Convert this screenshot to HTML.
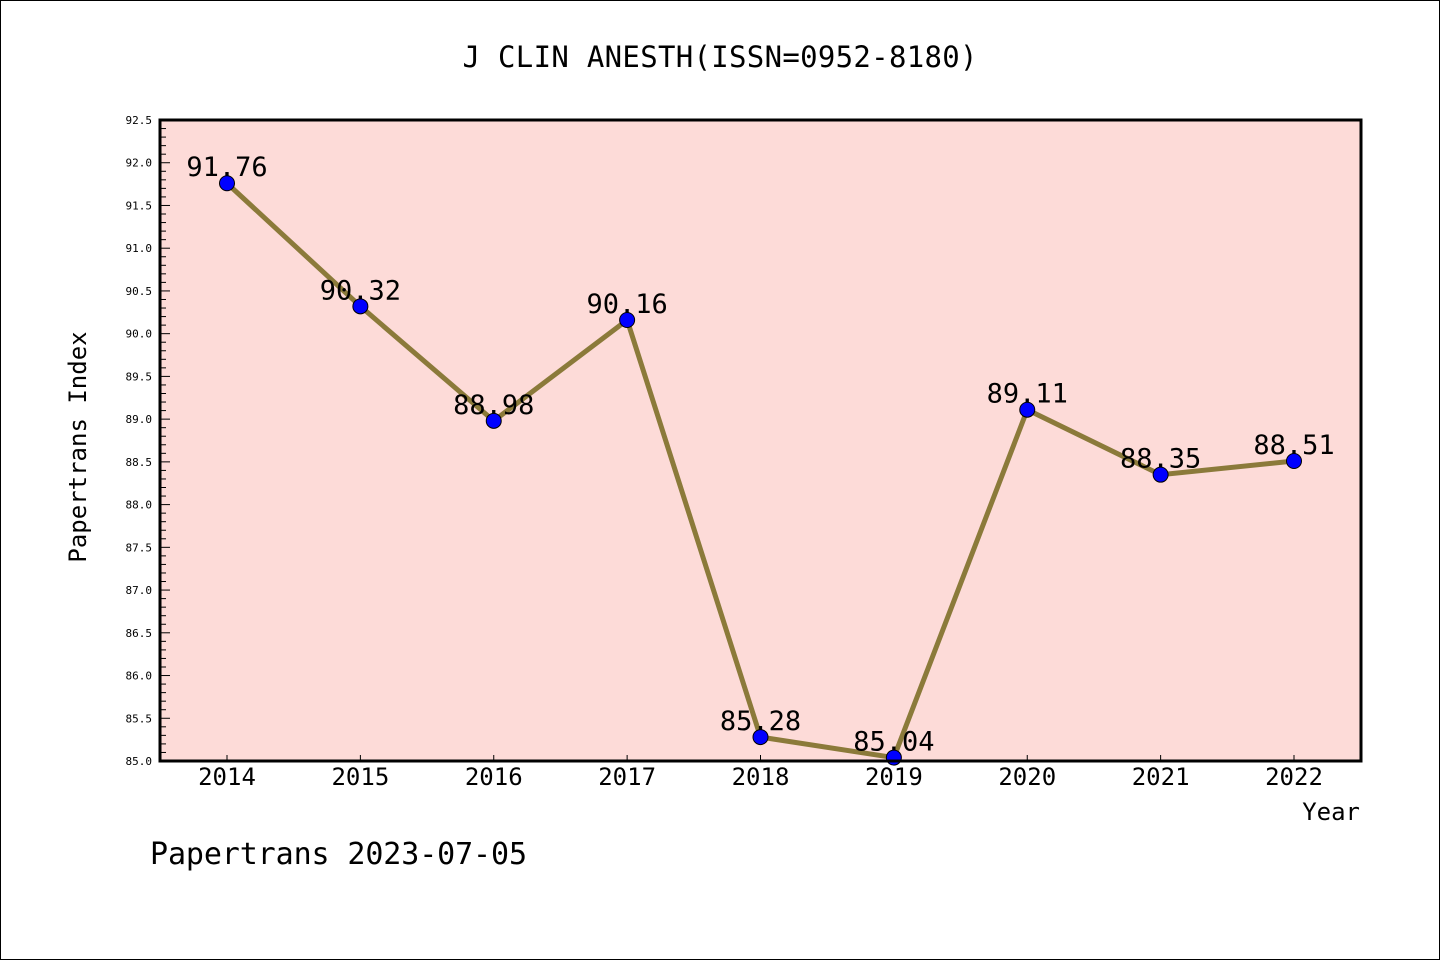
<!DOCTYPE html>
<html><head><meta charset="utf-8"><style>
html,body{margin:0;padding:0;background:#fff}
svg{display:block}
text{font-family:"DejaVu Sans Mono","Liberation Mono",monospace}
</style></head><body>
<svg id="chart" width="1440" height="960">
<rect x="0.5" y="0.5" width="1439" height="959" fill="#fff" stroke="#000"/>
<text x="720" y="67" font-size="29" text-anchor="middle" textLength="515">J CLIN ANESTH(ISSN=0952-8180)</text>
<rect x="160" y="120" width="1201" height="641" fill="#fddbd8"/>
<g id="yaxis"></g>
<g id="xaxis"></g>
<g id="series"></g>
<rect x="160" y="120" width="1201" height="641" fill="none" stroke="#000" stroke-width="3"/>
<text x="86" y="447" font-size="24" text-anchor="middle" transform="rotate(-90 86 447)">Papertrans Index</text>
<text x="1360" y="820" font-size="24" text-anchor="end">Year</text>
<text x="150" y="864" font-size="30" textLength="377">Papertrans 2023-07-05</text>
</svg>
<script>
const years=["2014","2015","2016","2017","2018","2019","2020","2021","2022"];
const values=[91.76,90.32,88.98,90.16,85.28,85.04,89.11,88.35,88.51];
const labels=["91.76","90.32","88.98","90.16","85.28","85.04","89.11","88.35","88.51"];
const yTicks=["85.0","85.5","86.0","86.5","87.0","87.5","88.0","88.5","89.0","89.5","90.0","90.5","91.0","91.5","92.0","92.5"];
const NS="http://www.w3.org/2000/svg";
const x0=160,x1=1361,y0=120,y1=761,yMin=85,yMax=92.5;
const xs=i=>227+i*(1294-227)/(years.length-1);
const ys=v=>y1-(v-yMin)/(yMax-yMin)*(y1-y0);
function mk(t,a,p){const e=document.createElementNS(NS,t);for(const k in a)e.setAttribute(k,a[k]);p.appendChild(e);return e;}
const ya=document.getElementById('yaxis');
for(let k=0;k<=75;k++){const v=yMin+k*0.1,y=ys(v);const major=k%5===0;
 const l=mk('line',{x1:x0,x2:x0+(major?10:6),y1:y,y2:y,stroke:'#000','stroke-width':1},ya);
 
 }
yTicks.forEach(s=>{const t=mk('text',{x:x0-8,y:ys(parseFloat(s))+4,'font-size':11,'text-anchor':'end','font-family':'DejaVu Sans, sans-serif'},ya);t.textContent=s;
 
 });
const xa=document.getElementById('xaxis');
years.forEach((s,i)=>{const l=mk('line',{x1:xs(i),x2:xs(i),y1:y1,y2:y1-6,stroke:'#000'},xa);
 
 
 const t=mk('text',{x:xs(i),y:785,'font-size':24,'text-anchor':'middle'},xa);t.textContent=s;
 
 });
const sg=document.getElementById('series');
const pl=mk('polyline',{points:values.map((v,i)=>xs(i)+','+ys(v)).join(' '),fill:'none',stroke:'#8b7a3a','stroke-width':5},sg);


values.forEach((v,i)=>{const c=mk('circle',{cx:xs(i),cy:ys(v),r:7.5,fill:'#0000ff',stroke:'#000','stroke-width':1},sg);
 
 
 const t=mk('text',{x:xs(i),y:ys(v)-7,'font-size':27,'text-anchor':'middle'},sg);t.textContent=labels[i];
 
 });
</script>
</body></html>
